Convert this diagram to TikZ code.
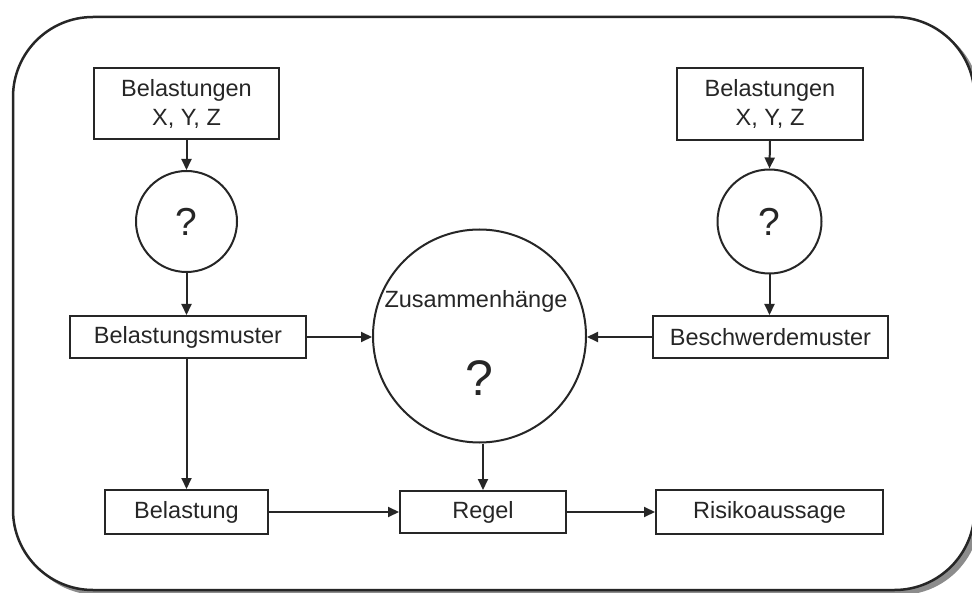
\documentclass[tikz,border=0pt]{standalone}
\usepackage{fontspec}
\setmainfont{Liberation Sans}
\usetikzlibrary{arrows.meta}
\begin{document}
\begin{tikzpicture}[x=1pt,y=-1pt,
  every node/.style={font=\fontsize{23.5}{29}\selectfont, text=black!85},
  boxnode/.style={draw=black!85, line width=2pt, rectangle, inner sep=0pt, align=center, fill=white},
  circnode/.style={draw=black!85, line width=2pt, circle, inner sep=0pt, fill=white},
  arr/.style={draw=black!85, line width=2pt, -{Triangle[length=11pt,width=10pt]}},
  qmark/.style={font=\fontsize{39}{39}\selectfont}
]
\useasboundingbox (0,0) rectangle (972,593);
\begin{scope}
\clip (0,0) rectangle (972,593);
% frame with shadow
\fill[black!45, rounded corners=80pt] (18,21) rectangle (980,595);
\draw[black!85, fill=white, line width=2.5pt, rounded corners=80pt] (13,17) rectangle (974.5,590);
\end{scope}

% left column
\node[boxnode, minimum width=185pt, minimum height=71pt] (b1) at (186.5,103.5) {Belastungen\\X, Y, Z};
\node[circnode, minimum size=101pt, qmark] (c1) at (186.5,221.5) {?};
\node[boxnode, minimum width=236pt, minimum height=42pt] (bm) at (188,337) {Belastungsmuster};
\node[boxnode, minimum width=163pt, minimum height=44pt] (bel) at (186.5,512) {Belastung};

% right column
\node[boxnode, minimum width=186pt, minimum height=72pt] (b2) at (770,104) {Belastungen\\X, Y, Z};
\node[circnode, minimum size=104pt, qmark] (c2) at (769.5,221.5) {?};
\node[boxnode, minimum width=235pt, minimum height=42pt] (bw) at (770.5,337) {Beschwerdemuster};
\node[boxnode, minimum width=227pt, minimum height=44pt] (risk) at (769.5,512) {Risikoaussage};

% centre
\node[circnode, minimum size=213pt] (Z) at (479.5,336) {};
\node (zt) at (476,301) {Zusammenhänge};
\node[font=\fontsize{50}{50}\selectfont] (zq) at (479.5,378) {?};
\node[boxnode, minimum width=166pt, minimum height=42pt] (regel) at (483,512) {Regel};

% connectors
\draw[arr] (b1.south) -- (c1.north);
\draw[arr] (c1.south) -- (c1.south |- bm.north);
\draw[arr] (bel.north |- bm.south) -- (bel.north);
\draw[arr] (bm.east) -- (Z.west |- bm.east);
\draw[arr] (bw.west) -- (Z.east |- bw.west);
\draw[arr] (b2.south) -- (c2.north);
\draw[arr] (c2.south) -- (c2.south |- bw.north);
\draw[arr] (Z.south -| regel.north) -- (regel.north);
\draw[arr] (bel.east) -- (regel.west);
\draw[arr] (regel.east) -- (risk.west);
\end{tikzpicture}
\end{document}
